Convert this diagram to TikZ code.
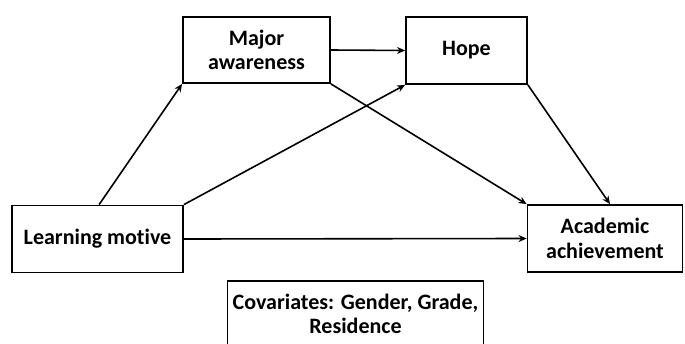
\documentclass[tikz,border=0pt]{standalone}
\usepackage{fontspec}
\setmainfont{Carlito}[Ligatures={NoCommon}]
\usetikzlibrary{arrows.meta}
\begin{document}
\begin{tikzpicture}[x=1pt,y=-1pt,
  box/.style={draw=black,line width=1.8pt,align=center,inner sep=0pt,
    font=\fontsize{22}{24.5}\selectfont\bfseries},
  conn/.style={line width=1.6pt,-{Stealth[length=8pt,width=7pt,inset=2.5pt]}}]
\useasboundingbox (0,0) rectangle (685,343);
\node[box,minimum width=147pt,minimum height=66pt] (ma) at (256.5,50) {Major\\awareness};
\node[box,minimum width=121pt,minimum height=67pt] (hope) at (466.5,50.5) {Hope};
\node[box,minimum width=171pt,minimum height=67pt] (lm) at (97.5,239) {Learning motive};
\node[box,minimum width=155pt,minimum height=67pt] (aa) at (605,238.5) {Academic\\achievement};
\node[box,minimum width=256pt,minimum height=66pt] (cov) at (355.5,314) {Covariates: Gender, Grade,\\Residence};
\draw[conn] ([xshift=88pt]lm.north west) -- (ma.south west);
\draw[conn] (lm.north east) -- (hope.south west);
\draw[conn] (lm.east) -- (aa.west);
\draw[conn] (ma.east) -- (hope.west);
\draw[conn] (ma.south east) -- (aa.north west);
\draw[conn] (hope.south east) -- ([xshift=5pt]aa.north);
\end{tikzpicture}
\end{document}
